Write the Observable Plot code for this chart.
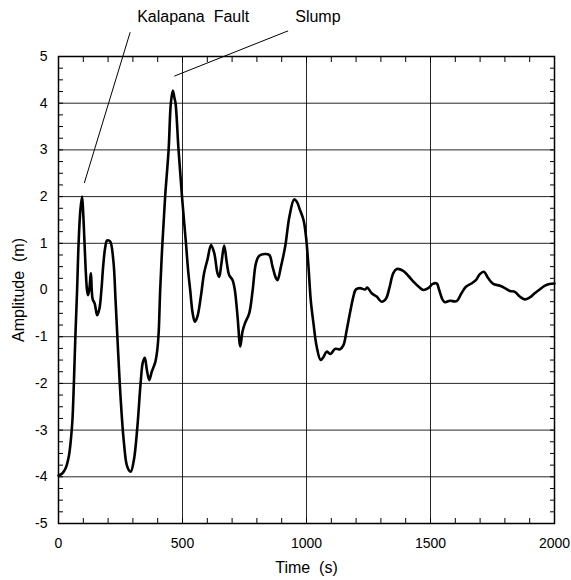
<!DOCTYPE html>
<html><head><meta charset="utf-8">
<script src="https://cdn.jsdelivr.net/npm/d3@7"></script>
<script src="https://cdn.jsdelivr.net/npm/@observablehq/plot@0.6"></script>
<style>body{margin:0;background:#fff}</style>
</head><body><div id="chart"></div>
<script>
const time = [0,15,30,42,50,56,62,68,75,81,88,95,100,105,110,115,119,124,129,131,134,138,146,156,165,173,180,188,196,208,221,230,240,251,264,277,291,304,318,331,340,348,356,366,376,390,398,404,410,419,430,444,453,461,468,472,484,498,514,523,531,541,550,560,574,587,601,615,628,641,648,657,668,679,688,702,711,722,733,742,752,769,783,796,809,830,850,863,877,883,897,914,931,950,961,974,988,998,1008,1017,1028,1041,1057,1068,1081,1097,1115,1135,1149,1162,1175,1189,1199,1216,1236,1245,1263,1283,1303,1321,1334,1350,1364,1390,1411,1431,1455,1471,1491,1509,1525,1535,1549,1558,1578,1605,1625,1643,1665,1683,1699,1715,1733,1753,1780,1800,1820,1840,1860,1880,1900,1920,1940,1960,1980,2000];
const amplitude = [-3.97,-3.93,-3.8,-3.55,-3.2,-2.8,-2.0,-1.0,0.0,1.0,1.7,2.0,1.6,1.0,0.4,0.0,-0.11,0.0,0.3,0.36,0.0,-0.2,-0.29,-0.54,-0.4,0.0,0.5,0.9,1.06,1.04,0.64,-0.21,-1.28,-2.36,-3.28,-3.78,-3.89,-3.64,-2.93,-2.0,-1.55,-1.45,-1.7,-1.93,-1.75,-1.55,-1.3,-0.9,0.0,1.0,2.0,3.0,4.0,4.27,4.1,4.0,3.0,2.0,1.0,0.4,0.0,-0.5,-0.68,-0.57,-0.14,0.36,0.66,0.96,0.79,0.36,0.28,0.57,0.95,0.57,0.32,0.21,0.0,-0.57,-1.21,-0.89,-0.71,-0.5,0.0,0.57,0.73,0.77,0.75,0.5,0.25,0.21,0.5,0.93,1.57,1.94,1.89,1.71,1.5,1.14,0.5,-0.21,-0.71,-1.21,-1.5,-1.44,-1.32,-1.37,-1.26,-1.27,-1.18,-0.86,-0.5,-0.14,0.01,0.04,0.01,0.05,-0.07,-0.14,-0.25,-0.18,0.04,0.36,0.45,0.41,0.3,0.18,0.06,0.0,0.04,0.13,0.14,0.0,-0.21,-0.26,-0.23,-0.24,-0.07,0.07,0.14,0.21,0.34,0.39,0.25,0.13,0.09,0.04,-0.02,-0.04,-0.14,-0.2,-0.16,-0.07,0.01,0.09,0.13,0.14];

const xTickLabels = [0, 500, 1000, 1500, 2000];
const yTickLabels = [-5, -4, -3, -2, -1, 0, 1, 2, 3, 4, 5];
const xGrid = [500, 1000, 1500];
const yGrid = [-4, -3, -2, -1, 1, 2, 3, 4];
const xMinor = d3.range(0, 2001, 100);
const yMinor = d3.range(-5, 5.001, 0.25);

const annotationLabels = ["Kalapana\u00a0 Fault", "Slump"];
const labelX = [543, 1046];
const labelY = [5.85, 5.85];
const pointerX1 = [289, 926];
const pointerY1 = [5.52, 5.55];
const pointerX2 = [104, 467];
const pointerY2 = [2.29, 4.58];

const series = time.map((t, i) => ({t, a: amplitude[i]}));
const annots = annotationLabels.map((label, i) => ({label, x: labelX[i], y: labelY[i], x1: pointerX1[i], y1: pointerY1[i], x2: pointerX2[i], y2: pointerY2[i]}));

const fmt = d => String(d);
const font = "'Liberation Sans', Arial, Helvetica, sans-serif";
const chart = Plot.plot({
  width: 571, height: 580,
  marginLeft: 58, marginRight: 17, marginTop: 56, marginBottom: 57,
  style: {fontFamily: font, fontSize: "14px", background: "white", color: "black", overflow: "visible"},
  x: {domain: [0, 2000]},
  y: {domain: [-5, 5]},
  marks: [
    Plot.gridY(yGrid, {stroke: "black", strokeOpacity: 0.85, strokeWidth: 1}),
    Plot.gridX(xGrid, {stroke: "black", strokeOpacity: 0.85, strokeWidth: 1}),
    Plot.axisX(xTickLabels, {anchor: "bottom", tickSize: 0, tickPadding: 15, fontSize: 14, tickFormat: fmt, label: null}),
    Plot.axisX(xMinor, {anchor: "bottom", tickSize: 5, dy: -5, fill: "none", label: null}),
    Plot.axisX(xMinor, {anchor: "top", tickSize: 5, dy: 5, fill: "none", label: null}),
    Plot.axisY(yTickLabels, {anchor: "left", tickSize: 0, tickPadding: 11, fontSize: 14, tickFormat: fmt, label: null}),
    Plot.axisY(yMinor, {anchor: "left", tickSize: 5, dx: 5, fill: "none", label: null}),
    Plot.axisY(yMinor, {anchor: "right", tickSize: 5, dx: -5, fill: "none", label: null}),
    Plot.frame({stroke: "black", strokeWidth: 1.5}),
    Plot.line(series, {x: "t", y: "a", curve: "catmull-rom", stroke: "black", strokeWidth: 2.6}),
    Plot.link(annots, {x1: "x1", y1: "y1", x2: "x2", y2: "y2", stroke: "black", strokeWidth: 1}),
    Plot.text(annots, {x: "x", y: "y", text: "label", fontSize: 16, textAnchor: "middle", lineAnchor: "middle"}),
    Plot.text(["Time\u00a0 (s)"], {frameAnchor: "bottom", dy: 44, lineAnchor: "middle", textAnchor: "middle", fontSize: 16}),
    Plot.text(["Amplitude\u00a0 (m)"], {frameAnchor: "left", dx: -40, rotate: -90, lineAnchor: "middle", textAnchor: "middle", fontSize: 16})
  ]
});
document.getElementById("chart").append(chart);
</script>
</body></html>
